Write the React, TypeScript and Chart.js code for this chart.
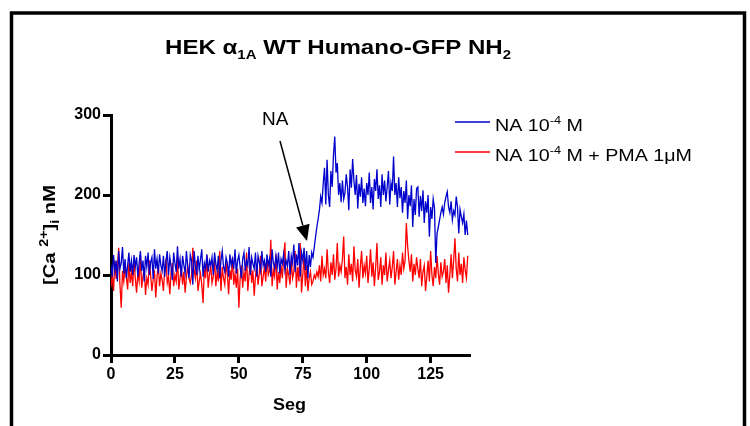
import { useEffect, useRef } from "react";
import { Chart, registerables } from "chart.js";

Chart.register(...registerables);

const FONT = "'Liberation Sans', Arial, Helvetica, sans-serif";
const SAMPLE_STEP = 0.5; // seconds between samples
const xTicks = [0, 25, 50, 75, 100, 125];
const yTicks = [0, 100, 200, 300];
const xMax = 140;
const yMax = 300;

// [Ca2+]i (nM), NA 10^-4 M
const naValues = [
  112, 98, 125, 105, 118, 92, 130, 108, 115, 135, 102, 120, 96, 112, 128, 104, 118, 100, 125, 110,
  122, 98, 115, 130, 105, 118, 92, 124, 110, 128, 100, 116, 122, 95, 132, 108, 120, 102, 126, 112,
  105, 124, 98, 118, 130, 100, 122, 110, 94, 128, 115, 104, 136, 108, 120, 98, 124, 112, 102, 130,
  110, 96, 125, 118, 88, 130, 112, 100, 124, 106, 120, 132, 98, 115, 108, 126, 104, 118, 112, 122,
  100, 128, 114, 106, 124, 96, 118, 130, 110, 104, 122, 115, 98, 126, 112, 120, 108, 132, 102, 118,
  125, 110, 96, 120, 128, 105, 118, 112, 135, 100, 122, 114, 108, 128, 98, 124, 116, 106, 130, 112,
  118, 104, 126, 112, 120, 98, 132, 115, 108, 124, 110, 128, 102, 120, 114, 126, 106, 118, 112, 130,
  100, 124, 115, 138, 104, 126, 112, 140, 98, 128, 118, 134, 106, 130, 96, 125, 110, 128, 122, 135,
  148, 160, 170, 181, 198, 190, 215, 234, 188, 244, 200, 185, 230, 210, 250, 273, 228, 240, 200, 215,
  191, 218, 195, 203, 226, 210, 181, 232, 209, 245, 218, 200, 225, 183, 214, 198, 222, 190, 208, 186,
  215, 200, 228, 190, 210, 182, 220, 205, 232, 195, 212, 185, 226, 200, 218, 192, 210, 230, 188, 215,
  205, 248, 200, 215, 185, 222, 196, 210, 178, 205, 190, 218, 170, 200, 186, 212, 160, 195, 175, 208,
  210, 173, 199, 180, 206, 165, 192, 178, 200, 148, 185, 170, 195, 184, 115, 152, 160, 169, 178, 185,
  176, 190, 198, 204, 185, 178, 192, 169, 180, 175, 198, 185, 152, 182, 173, 165, 176, 150, 168, 150,
];

// [Ca2+]i (nM), NA 10^-4 M + PMA 1 uM
const naPmaValues = [
  85, 100, 80, 118, 95, 108, 134, 88, 59, 105, 92, 110, 98, 82, 115, 90, 104, 86, 120, 96,
  78, 102, 92, 125, 84, 98, 110, 75, 96, 88, 118, 100, 80, 94, 106, 72, 98, 112, 86, 102,
  94, 80, 108, 120, 90, 98, 76, 104, 115, 86, 100, 92, 124, 82, 96, 110, 88, 104, 78, 98,
  112, 96, 90, 100, 134, 106, 96, 118, 80, 92, 102, 88, 65, 108, 96, 124, 84, 100, 112, 90,
  98, 120, 86, 104, 92, 130, 80, 110, 96, 88, 116, 100, 76, 106, 94, 122, 88, 102, 84, 108,
  59, 96, 112, 84, 104, 92, 128, 80, 100, 118, 90, 106, 74, 98, 114, 88, 102, 124, 86, 98,
  110, 92, 120, 100, 106, 144, 86, 106, 98, 126, 82, 104, 90, 112, 96, 120, 141, 84, 108, 100,
  88, 118, 96, 104, 130, 84, 110, 92, 140, 78, 100, 124, 86, 112, 80, 96, 104, 88, 92, 100,
  96, 104, 98, 112, 92, 124, 100, 108, 96, 132, 104, 90, 116, 100, 126, 94, 108, 140, 98, 112,
  104, 120, 148, 96, 110, 88, 126, 100, 114, 92, 136, 106, 98, 120, 84, 110, 130, 96, 112, 102,
  124, 90, 108, 132, 98, 116, 86, 110, 140, 94, 104, 122, 88, 112, 100, 128, 92, 106, 118, 96,
  110, 130, 88, 104, 120, 94, 112, 100, 128, 108, 118, 165, 136, 118, 104, 126, 92, 114, 100, 122,
  108, 96, 120, 86, 104, 112, 80, 98, 118, 92, 130, 100, 86, 110, 96, 124, 102, 88, 116, 98,
  104, 120, 90, 112, 78, 100, 126, 96, 118, 146, 108, 92, 128, 100, 114, 90, 122, 106, 96, 124,
];

const BLUE = "#0000CC";
const RED = "#FF0000";

type Seg = { t: string; size: number; bold?: boolean; dy?: number };

function segFont(s: Seg) {
  return `${s.bold ? "bold " : ""}${s.size}px ${FONT}`;
}

function drawRich(ctx: CanvasRenderingContext2D, segs: Seg[], x: number, y: number, targetWidth?: number) {
  let w = 0;
  for (const s of segs) {
    ctx.font = segFont(s);
    w += ctx.measureText(s.t).width;
  }
  const sx = targetWidth ? targetWidth / w : 1;
  ctx.save();
  ctx.translate(x, y);
  ctx.scale(sx, 1);
  ctx.textBaseline = "alphabetic";
  ctx.textAlign = "left";
  ctx.fillStyle = "#000";
  let cx = 0;
  for (const s of segs) {
    ctx.font = segFont(s);
    ctx.fillText(s.t, cx, s.dy || 0);
    cx += ctx.measureText(s.t).width;
  }
  ctx.restore();
}

const decorPlugin = {
  id: "decor",
  afterDraw(chart: any) {
    const ctx: CanvasRenderingContext2D = chart.ctx;
    ctx.save();
    // frame
    ctx.strokeStyle = "#000";
    ctx.lineWidth = 3.5;
    ctx.beginPath();
    ctx.moveTo(11.5, 440);
    ctx.lineTo(11.5, 13);
    ctx.lineTo(744.5, 13);
    ctx.lineTo(744.5, 440);
    ctx.stroke();

    // title
    drawRich(
      ctx,
      [
        { t: "HEK ", size: 21, bold: true },
        { t: "α", size: 21, bold: true },
        { t: "1A", size: 13, bold: true, dy: 5 },
        { t: " WT Humano-GFP NH", size: 21, bold: true },
        { t: "2", size: 13, bold: true, dy: 5 },
      ],
      165,
      54,
      346
    );

    // y title (rotated)
    ctx.save();
    ctx.translate(55, 285);
    ctx.rotate(-Math.PI / 2);
    drawRich(
      ctx,
      [
        { t: "[Ca ", size: 17, bold: true },
        { t: "2+", size: 12, bold: true, dy: -7 },
        { t: "]", size: 17, bold: true },
        { t: "i", size: 12, bold: true, dy: 4 },
        { t: " nM", size: 17, bold: true },
      ],
      0,
      0,
      100
    );
    ctx.restore();

    // x title
    drawRich(ctx, [{ t: "Seg", size: 17, bold: true }], 273, 410, 33);

    // legend
    ctx.lineWidth = 1.5;
    ctx.strokeStyle = BLUE;
    ctx.beginPath();
    ctx.moveTo(455, 122);
    ctx.lineTo(490, 122);
    ctx.stroke();
    ctx.strokeStyle = RED;
    ctx.beginPath();
    ctx.moveTo(455, 152);
    ctx.lineTo(490, 152);
    ctx.stroke();
    drawRich(
      ctx,
      [
        { t: "NA 10", size: 17 },
        { t: "-4", size: 11, dy: -7 },
        { t: " M", size: 17 },
      ],
      495,
      131,
      88
    );
    drawRich(
      ctx,
      [
        { t: "NA 10", size: 17 },
        { t: "-4", size: 11, dy: -7 },
        { t: " M + PMA 1μM", size: 17 },
      ],
      495,
      161,
      197
    );

    // NA annotation with arrow
    drawRich(ctx, [{ t: "NA", size: 19 }], 262, 125);
    const x1 = 280, y1 = 141, tx = 307, ty = 241;
    const dx = tx - x1, dyy = ty - y1;
    const len = Math.hypot(dx, dyy);
    const ux = dx / len, uy = dyy / len;
    const bx = tx - 16 * ux, by = ty - 16 * uy;
    ctx.strokeStyle = "#000";
    ctx.lineWidth = 1.5;
    ctx.beginPath();
    ctx.moveTo(x1, y1);
    ctx.lineTo(bx, by);
    ctx.stroke();
    ctx.fillStyle = "#000";
    ctx.beginPath();
    ctx.moveTo(tx, ty);
    ctx.lineTo(bx - 7 * uy, by + 7 * ux);
    ctx.lineTo(bx + 7 * uy, by - 7 * ux);
    ctx.closePath();
    ctx.fill();
    ctx.restore();
  },
};

export default function App() {
  const ref = useRef<HTMLCanvasElement>(null);

  useEffect(() => {
    const canvas = ref.current;
    if (!canvas) return;
    const toPoints = (vals: number[]) => vals.map((y, i) => ({ x: i * SAMPLE_STEP, y }));
    const chart = new Chart(canvas, {
      type: "line",
      data: {
        datasets: [
          {
            label: "NA 10-4 M",
            data: toPoints(naValues),
            borderColor: BLUE,
            borderWidth: 1.3,
            pointRadius: 0,
            tension: 0,
            fill: false,
          },
          {
            label: "NA 10-4 M + PMA 1μM",
            data: toPoints(naPmaValues),
            borderColor: RED,
            borderWidth: 1.3,
            pointRadius: 0,
            tension: 0,
            fill: false,
          },
        ],
      },
      options: {
        animation: false,
        responsive: false,
        devicePixelRatio: 1,
        layout: { padding: { left: 0, top: 115, right: 281, bottom: 0 } },
        plugins: {
          legend: { display: false },
          title: { display: false },
          tooltip: { enabled: false },
        },
        scales: {
          x: {
            type: "linear",
            min: 0,
            max: xMax,
            afterBuildTicks: (s: any) => {
              s.ticks = xTicks.map((v) => ({ value: v }));
            },
            afterFit: (s: any) => {
              s.height = 71;
            },
            ticks: {
              color: "#000",
              font: { family: FONT, size: 16, weight: "bold" },
              padding: 2,
              maxRotation: 0,
              autoSkip: false,
            },
            border: { display: true, color: "#000", width: 3 },
            grid: {
              display: true,
              drawOnChartArea: false,
              drawTicks: true,
              tickLength: 8,
              tickWidth: 3,
              tickColor: "#000",
              color: "#000",
              lineWidth: 3,
            },
          },
          y: {
            type: "linear",
            min: 0,
            max: yMax,
            afterBuildTicks: (s: any) => {
              s.ticks = yTicks.map((v) => ({ value: v }));
            },
            afterFit: (s: any) => {
              s.width = 111;
            },
            ticks: {
              color: "#000",
              font: { family: FONT, size: 16, weight: "bold" },
              padding: 2,
            },
            border: { display: true, color: "#000", width: 3 },
            grid: {
              display: true,
              drawOnChartArea: false,
              drawTicks: true,
              tickLength: 8,
              tickWidth: 3,
              tickColor: "#000",
              color: "#000",
              lineWidth: 3,
            },
          },
        },
      },
      plugins: [decorPlugin],
    } as any);
    return () => chart.destroy();
  }, []);

  return (
    <div style={{ position: "fixed", left: 0, top: 0, width: 750, height: 426, background: "#fff" }}>
      <canvas ref={ref} width={750} height={426} style={{ display: "block", width: 750, height: 426 }} />
    </div>
  );
}
